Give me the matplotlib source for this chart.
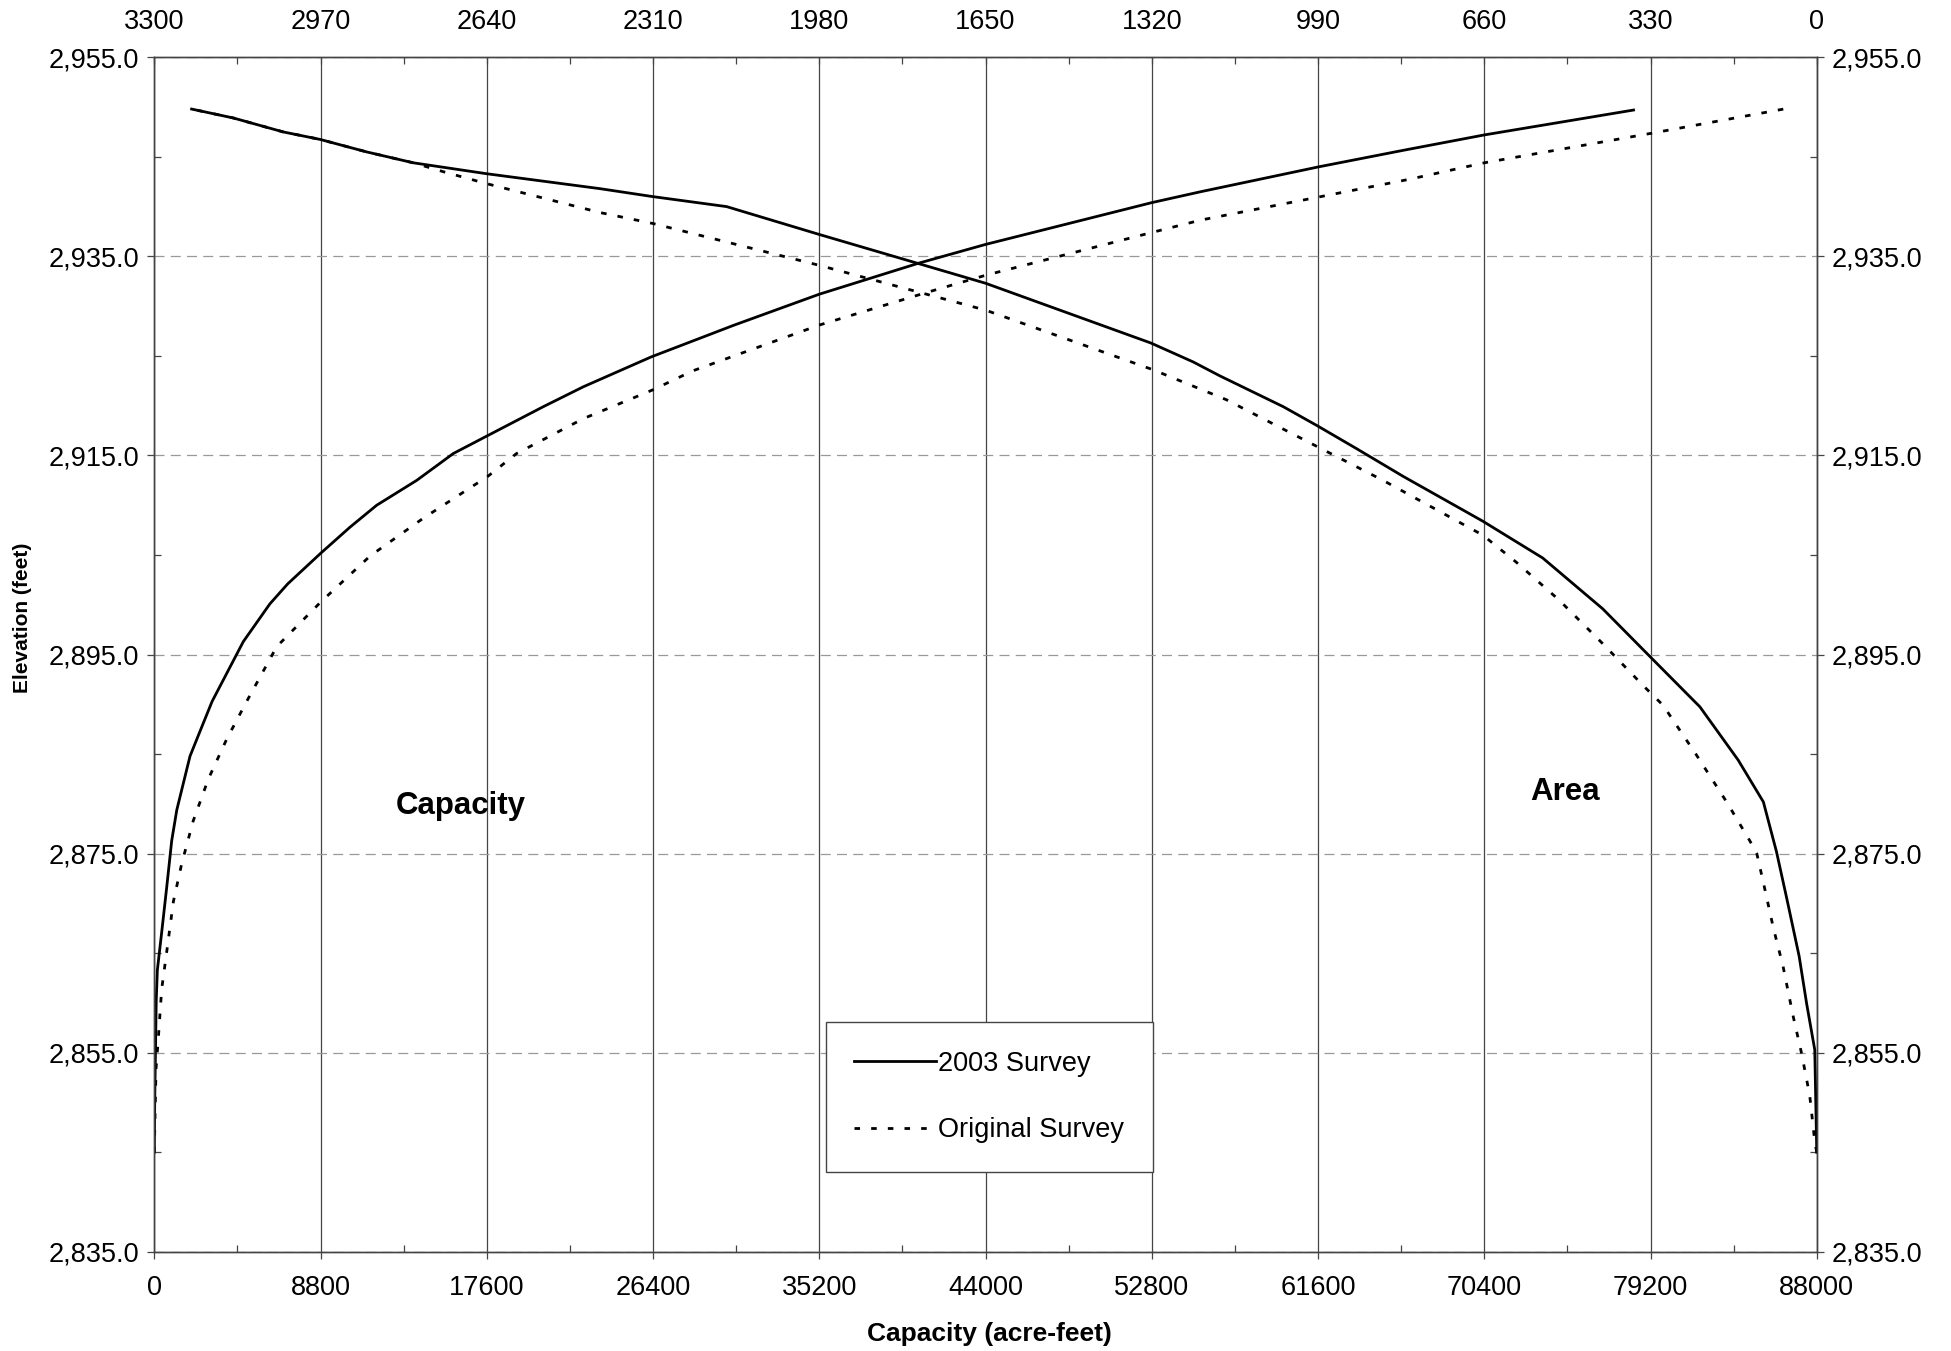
import matplotlib
matplotlib.use("Agg")
import matplotlib.pyplot as plt
from matplotlib.ticker import MultipleLocator, FuncFormatter

plt.rcParams['font.family'] = ['Liberation Sans', 'DejaVu Sans']

# capacity curves (bottom axis, acre-feet) vs elevation (feet)
cap_2003_elev = [2845.0, 2850.0, 2855.0, 2860.2, 2863.3, 2867.1, 2871.7, 2876.3, 2879.4,
                 2884.8, 2887.3, 2890.3, 2896.3, 2900.1, 2902.1, 2905.2, 2907.8, 2910.0,
                 2912.5, 2915.2, 2917.0, 2919.9, 2921.9, 2924.9, 2928.1, 2931.2, 2934.3,
                 2936.2, 2940.4, 2941.5, 2944.0, 2945.65, 2947.2, 2949.7]
cap_2003 = [0, 20, 60, 100, 160, 390, 660, 920, 1190,
            1890, 2420, 3060, 4710, 6120, 7060, 8820, 10360, 11770,
            13890, 15830, 17650, 20590, 22710, 26300, 30700, 35200, 40430,
            44000, 52800, 55400, 61650, 66100, 70400, 78300]

cap_orig_elev = [2845.0, 2848.0, 2853.4, 2856.4, 2861.4, 2865.2, 2870.2, 2874.0, 2878.3,
                 2882.5, 2886.5, 2890.3, 2895.8, 2900.3, 2904.9, 2908.7, 2912.9, 2915.2,
                 2918.7, 2921.6, 2923.5, 2928.1, 2931.35, 2933.1, 2937.4, 2938.65,
                 2942.75, 2944.4, 2947.35, 2949.8]
cap_orig = [0, 30, 90, 210, 390, 660, 1010, 1450, 2060,
            2860, 3830, 4890, 6480, 8820, 11420, 14240, 17650, 19180,
            22710, 26400, 28500, 35200, 40840, 44000, 52800, 55400,
            66450, 70400, 79200, 86250]

# area curves (top axis, acres) vs elevation (feet)
area_2003_elev = [2845.0, 2855.3, 2859.9, 2864.7, 2870.6, 2875.2, 2880.2, 2884.4, 2889.75,
                  2895.0, 2899.6, 2904.7, 2908.4, 2912.9, 2915.7, 2918.0, 2919.9, 2923.0,
                  2924.4, 2926.3, 2932.3, 2937.2, 2940.0, 2941.0, 2941.8, 2943.3, 2944.4,
                  2945.5, 2946.75, 2947.5, 2948.9, 2949.8]
area_2003 = [0, 4, 20, 35, 60, 80, 106, 156, 232,
             335, 425, 544, 663, 821, 914, 992, 1059, 1185,
             1238, 1322, 1650, 1980, 2164, 2310, 2415, 2640, 2786,
             2879, 2971, 3044, 3143, 3226]

area_orig_elev = [2845.0, 2846.1, 2850.7, 2854.9, 2858.7, 2863.7, 2867.5, 2872.1, 2875.0,
                  2876.3, 2880.2, 2885.0, 2889.9, 2891.9, 2896.1, 2900.5, 2904.3, 2907.0,
                  2912.5, 2915.9, 2920.6, 2923.6, 2929.6, 2934.1, 2938.3, 2939.4, 2942.3,
                  2943.5, 2944.4, 2945.5, 2946.75, 2947.5, 2948.9, 2949.8]
area_orig = [0, 4, 14, 30, 47, 67, 86, 106, 119,
             133, 179, 240, 305, 345, 425, 512, 597, 663,
             861, 992, 1172, 1317, 1650, 1980, 2310, 2415, 2640,
             2726, 2786, 2879, 2971, 3044, 3143, 3226]

fig = plt.figure(figsize=(19.51, 13.51), dpi=100)
ax = fig.add_axes([0.0791, 0.0734, 0.8521, 0.8842])

solid = dict(color='black', lw=2.0, linestyle='-')
dotted = dict(color='black', lw=2.0, linestyle=(0, (2, 4)))

l1, = ax.plot(cap_2003, cap_2003_elev, **solid)
l2, = ax.plot(cap_orig, cap_orig_elev, **dotted)

ax.set_xlim(0, 88000)
ax.set_ylim(2835, 2955)
ax.xaxis.set_major_locator(MultipleLocator(8800))
ax.xaxis.set_minor_locator(MultipleLocator(4400))
ax.yaxis.set_major_locator(MultipleLocator(20, offset=15))
ax.yaxis.set_minor_locator(MultipleLocator(10, offset=5))
ax.yaxis.set_major_formatter(FuncFormatter(lambda v, p: f"{v:,.1f}"))
ax.grid(axis='x', which='major', color='#444444', lw=0.9)
ax.grid(axis='y', which='major', color='#999999', lw=0.9, linestyle=(0, (8, 5)))
ax.tick_params(axis='both', which='major', direction='out', length=5, width=0.9,
               labelsize=19.5, color='#444444')
ax.tick_params(axis='both', which='minor', direction='in', length=5, width=0.9, color='#444444')
ax.tick_params(axis='x', which='major', pad=12)
ax.tick_params(axis='y', which='both', right=True, labelright=True)
ax.tick_params(axis='y', which='major', pad=6)

ax2 = ax.twiny()
ax2.plot(area_2003, area_2003_elev, **solid)
ax2.plot(area_orig, area_orig_elev, **dotted)
ax2.set_xlim(3300, 0)
ax2.xaxis.set_major_locator(MultipleLocator(330))
ax2.xaxis.set_minor_locator(MultipleLocator(165))
ax2.tick_params(axis='x', which='both', direction='in', length=5, width=0.9,
                labelsize=19.5, color='#444444', pad=16)

for a in (ax, ax2):
    for s in a.spines.values():
        s.set_color('#444444')
        s.set_linewidth(1.0)

ax2.text(16200, 2879.75, 'Capacity', transform=ax.transData, fontsize=22.5,
         fontweight='bold', ha='center', va='center')
ax2.text(74690, 2881.2, 'Area', transform=ax.transData, fontsize=22.5,
         fontweight='bold', ha='center', va='center')

leg = ax2.legend([l1, l2], ['2003 Survey', 'Original Survey'], loc='lower left',
                 bbox_to_anchor=(0.404, 0.067), fontsize=19.5, frameon=True,
                 fancybox=False, edgecolor='#444444', framealpha=1,
                 handlelength=3.0, handletextpad=0.1, labelspacing=1.5,
                 borderpad=1.05, borderaxespad=0)
leg.get_frame().set_linewidth(1.0)

fig.text(0.5074, 0.0126, 'Capacity (acre-feet)', fontsize=19, fontweight='bold',
         ha='center', va='center')
fig.text(0.0115, 0.5426, 'Elevation (feet)', fontsize=15, fontweight='bold',
         ha='center', va='center', rotation=90)

fig.savefig('out.png', dpi=100)
